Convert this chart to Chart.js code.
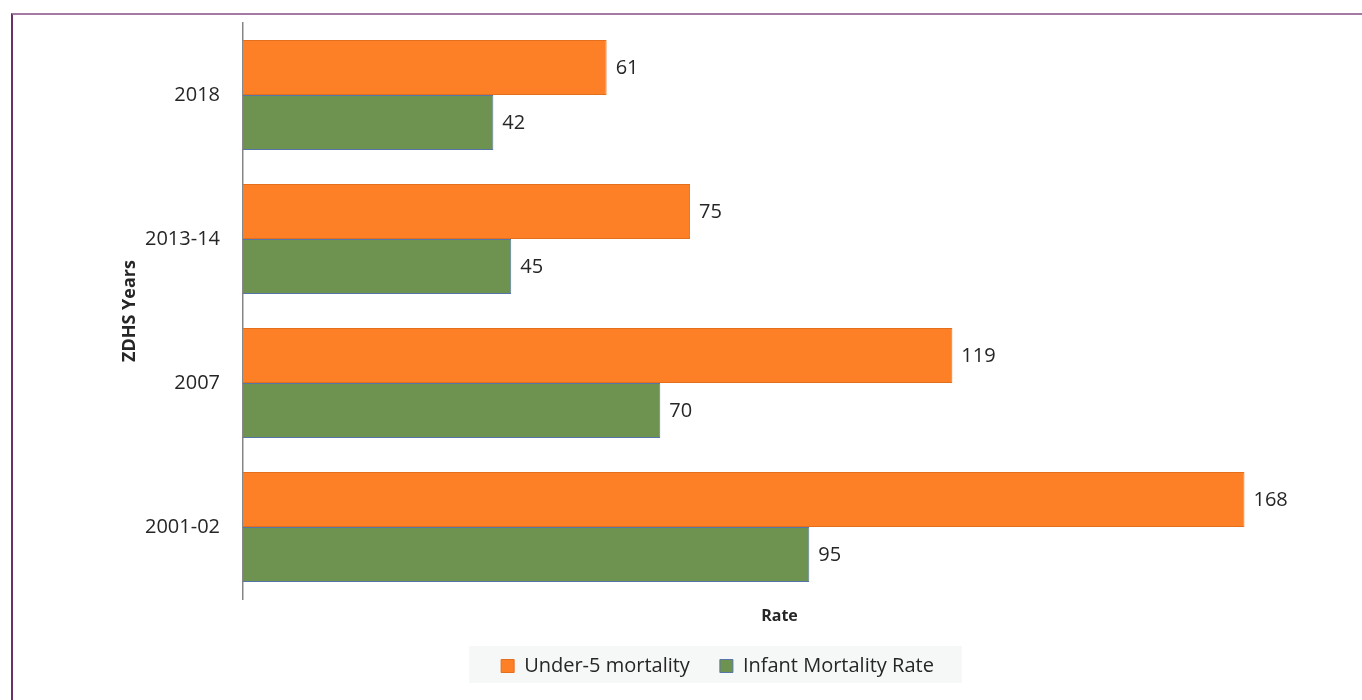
<!DOCTYPE html>
<html lang="en">
<head>
  <meta charset="UTF-8" />
  <title>Under-5 and Infant Mortality by ZDHS Year</title>
  <script src="https://cdn.jsdelivr.net/npm/chart.js"></script>
  <style>
    body { margin: 0; width: 1362px; height: 700px; overflow: hidden; background: #fff; font-family: "Open Sans", sans-serif; }
    .frame { position: absolute; left: 11px; top: 13px; right: 0; bottom: 0; border-top: 2px solid #a47aa4; border-left: 2px solid #6b3268; }
    #chartMortality { position: absolute; left: 0; top: 0; }
  </style>
</head>
<body>
  <div class="frame"></div>
  <canvas id="chartMortality" width="1362" height="700"></canvas>

  <script>
    // Survey rounds, top to bottom
    const years = ['2018', '2013-14', '2007', '2001-02'];
    const under5 = [61, 75, 119, 168];
    const infant = [42, 45, 70, 95];

    // value labels just past the end of each bar
    const valueLabels = {
      id: 'valueLabels',
      afterDatasetsDraw(chart) {
        const ctx = chart.ctx;
        ctx.save();
        ctx.font = '20px "Open Sans", sans-serif';
        ctx.fillStyle = '#262626';
        ctx.textAlign = 'left';
        ctx.textBaseline = 'middle';
        chart.data.datasets.forEach((ds, i) => {
          chart.getDatasetMeta(i).data.forEach((bar, j) => {
            ctx.fillText(ds.data[j], bar.x + 9, bar.y + 1);
          });
        });
        ctx.restore();
      }
    };

    // light grey panel behind the legend entries
    const legendPanel = {
      id: 'legendPanel',
      beforeDraw(chart) {
        const boxes = chart.legend && chart.legend.legendHitBoxes;
        if (!boxes || !boxes.length) return;
        const first = boxes[0];
        const last = boxes[boxes.length - 1];
        const ctx = chart.ctx;
        ctx.save();
        ctx.fillStyle = '#f6f7f7';
        ctx.fillRect(first.left - 32, first.top - 10, last.left + last.width + 28 - (first.left - 32), first.height + 17);
        ctx.restore();
      }
    };

    const ctx = document.getElementById('chartMortality').getContext('2d');
    new Chart(ctx, {
      type: 'bar',
      data: {
        labels: years,
        datasets: [
          {
            label: 'Under-5 mortality',
            data: under5,
            backgroundColor: '#fd7f26',
            borderColor: '#e46f1c',
            borderWidth: 1
          },
          {
            label: 'Infant Mortality Rate',
            data: infant,
            backgroundColor: '#6e9350',
            borderColor: '#5576a6',
            borderWidth: 1
          }
        ]
      },
      options: {
        indexAxis: 'y',
        responsive: false,
        animation: false,
        categoryPercentage: 0.764,
        barPercentage: 1,
        layout: { padding: { left: 119, right: 46, top: 23, bottom: 14 } },
        scales: {
          x: {
            min: 0,
            max: 180,
            grid: { display: false },
            border: { display: false },
            ticks: { display: false },
            title: {
              display: true,
              text: 'Rate',
              color: '#262626',
              font: { family: '"Open Sans", sans-serif', size: 16, weight: 'bold' },
              padding: { top: 0, bottom: 0 }
            },
            afterFit(scale) { scale.height = 27; }
          },
          y: {
            // hidden tick marks keep the labels 23px off the axis
            grid: { display: false, drawTicks: true, tickLength: 23 },
            border: { display: true, color: '#868686', width: 1.5 },
            ticks: {
              color: '#262626',
              padding: 0,
              font: { family: '"Open Sans", sans-serif', size: 20 }
            },
            title: {
              display: true,
              text: 'ZDHS Years',
              color: '#262626',
              font: { family: '"Open Sans", sans-serif', size: 18, weight: 'bold' },
              padding: { top: 0, bottom: 0 }
            },
            afterFit(scale) { scale.width = 124; }
          }
        },
        plugins: {
          legend: {
            position: 'bottom',
            labels: {
              boxWidth: 13,
              boxHeight: 13,
              padding: 30,
              color: '#262626',
              font: { family: '"Open Sans", sans-serif', size: 20 }
            }
          },
          tooltip: { enabled: false }
        }
      },
      plugins: [legendPanel, valueLabels]
    });
  </script>
</body>
</html>
